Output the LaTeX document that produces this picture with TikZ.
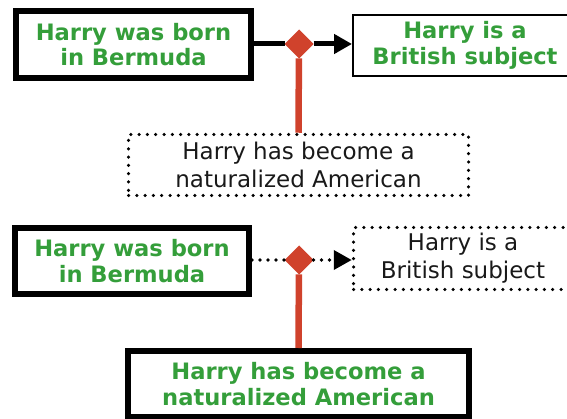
\documentclass[tikz,border=0pt]{standalone}
\usepackage{fontspec}
\setmainfont{DejaVu Sans}
\usetikzlibrary{arrows.meta,shapes.geometric}
\definecolor{tgreen}{RGB}{52,158,58}
\definecolor{tred}{RGB}{208,66,44}
\begin{document}
\begin{tikzpicture}[x=1pt,y=-1pt,
  boldtext/.style={font=\bfseries\fontsize{22.6}{25.5}\selectfont, text=tgreen, align=center},
  plaintext/.style={font=\fontsize{23}{28}\selectfont, text=black!90, align=center},
  thickbox/.style={draw, line width=6pt, inner sep=0pt, boldtext},
  thinbox/.style={draw, line width=2pt, inner sep=0pt, boldtext},
  dotbox/.style={draw, line width=3.5pt, line cap=round, dash pattern=on 0pt off 8.3pt, inner sep=0pt, plaintext},
  diam/.style={diamond, fill=tred, minimum width=29pt, minimum height=29pt, inner sep=0pt, outer sep=0pt},
  solidlink/.style={line width=5pt},
  dotlink/.style={line width=3.7pt, line cap=round, dash pattern=on 0pt off 8pt},
  redlink/.style={tred, line width=6.5pt},
  tip/.style={-{Triangle[length=18pt,width=19pt]}}
]
\useasboundingbox (0,0) rectangle (567,419);
\clip (0,0) rectangle (567,419);

% top group
\node[thickbox, minimum width=235pt, minimum height=67pt] (A1) at (133.5,44.5) {Harry was born\\in Bermuda};
\node[thinbox, minimum width=224pt, minimum height=61pt] (B1) at (465,45.5) {Harry is a\\British subject};
\node[dotbox, minimum width=340pt, minimum height=61pt] (C1) at (298.5,165) {Harry has become a\\naturalized American};
\node[diam] (D1) at (299,44) {};
\draw[solidlink] (A1.east |- D1) -- (D1);
\draw[solidlink, tip] (D1) -- (B1.west |- D1);
\draw[redlink] (D1) -- (C1.north);

% bottom group
\node[thickbox, minimum width=234pt, minimum height=66pt] (A2) at (132,261) {Harry was born\\in Bermuda};
\node[dotbox, minimum width=219pt, minimum height=62pt] (B2) at (463,258.5) {Harry is a\\British subject};
\node[thickbox, minimum width=341pt, minimum height=66pt] (C2) at (298.5,384) {Harry has become a\\naturalized American};
\node[diam] (D2) at (299,260) {};
\draw[dotlink] (A2.east |- D2) -- (D2);
\draw[dotlink, tip] (D2) -- (B2.west |- D2);
\draw[redlink] (D2) -- (C2.north);
\end{tikzpicture}
\end{document}
